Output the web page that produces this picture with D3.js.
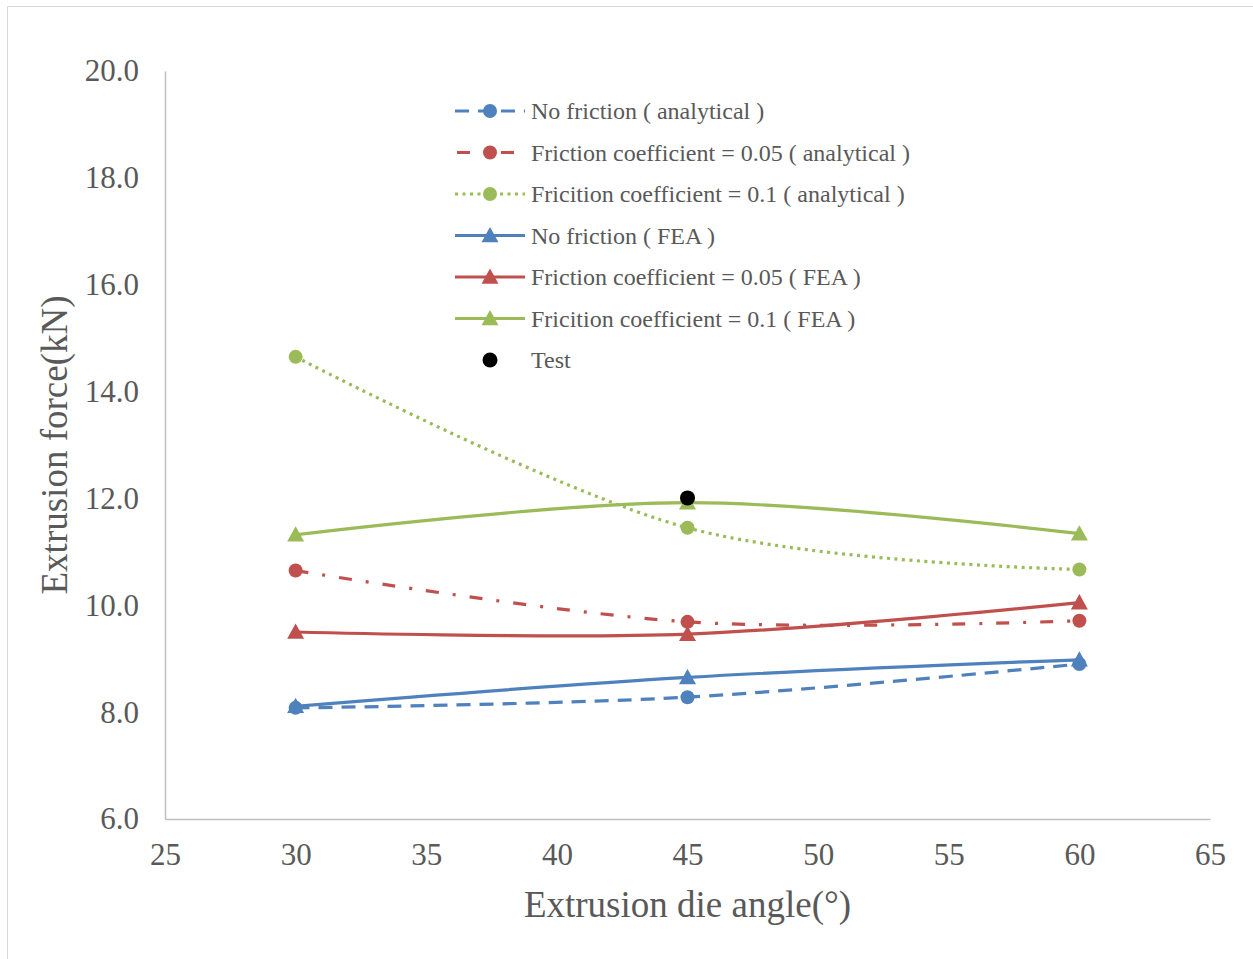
<!DOCTYPE html>
<html>
<head>
<meta charset="utf-8">
<script src="https://cdn.jsdelivr.net/npm/d3@7"></script>
<style>
  html, body { margin: 0; padding: 0; background: #fff; }
  svg text { font-family: "Liberation Serif", "Times New Roman", serif; fill: #595959; }
</style>
</head>
<body>
<svg id="chart" width="1253" height="959"></svg>
<script>
// Die angles (degrees)
const angles = [30, 45, 60];

// Extrusion force (kN) per series
const noFrictionAnalytical = [8.08, 8.28, 8.90];
const friction005Analytical = [10.65, 9.69, 9.71];
const friction01Analytical = [14.65, 11.45, 10.67];
const noFrictionFEA = [8.11, 8.65, 8.98];
const friction005FEA = [9.50, 9.46, 10.05];
const friction01FEA = [11.32, 11.92, 11.34];
const testAngle = [45];
const testForce = [12.01];

const seriesNames = [
  "No friction ( analytical )",
  "Friction coefficient = 0.05 ( analytical )",
  "Fricition coefficient = 0.1 ( analytical )",
  "No friction ( FEA )",
  "Friction coefficient = 0.05 ( FEA )",
  "Fricition coefficient = 0.1 ( FEA )",
  "Test"
];

const xTicks = [25, 30, 35, 40, 45, 50, 55, 60, 65];
const yTicks = [6, 8, 10, 12, 14, 16, 18, 20];

const blue = "#4F81BD", red = "#C0504D", green = "#9BBB59";
const serif = "'Liberation Serif', 'Times New Roman', serif";

const series = [
  { name: seriesNames[0], values: noFrictionAnalytical, color: blue, dash: "14,9", legendOffset: 0, marker: "circle" },
  { name: seriesNames[1], values: friction005Analytical, color: red, dash: "13,14,3,14", legendOffset: -2, marker: "circle" },
  { name: seriesNames[2], values: friction01Analytical, color: green, dash: "3,4.5", legendOffset: 0, marker: "circle" },
  { name: seriesNames[3], values: noFrictionFEA, color: blue, dash: null, marker: "triangle" },
  { name: seriesNames[4], values: friction005FEA, color: red, dash: null, marker: "triangle" },
  { name: seriesNames[5], values: friction01FEA, color: green, dash: null, marker: "triangle" }
];

const svg = d3.select("#chart");

// chart frame
svg.append("rect")
  .attr("x", 7.5).attr("y", 6.5)
  .attr("width", 1260).attr("height", 970)
  .attr("fill", "none").attr("stroke", "#d9d9d9").attr("stroke-width", 1);

const plot = { left: 165, right: 1210, top: 71, bottom: 819 };

const x = d3.scaleLinear().domain([25, 65]).range([plot.left, plot.right]);
const y = d3.scaleLinear().domain([6, 20]).range([plot.bottom, plot.top]);

// axes
const xAxis = d3.axisBottom(x).tickValues(xTicks).tickSize(0).tickPadding(24)
  .tickFormat(d3.format("d"));
const yAxis = d3.axisLeft(y).tickValues(yTicks).tickSize(0).tickPadding(26)
  .tickFormat(d3.format(".1f"));

const gx = svg.append("g").attr("transform", `translate(0,${plot.bottom})`).call(xAxis);
const gy = svg.append("g").attr("transform", `translate(${plot.left},0)`).call(yAxis);

[gx, gy].forEach(g => {
  g.attr("font-family", serif);
  g.select(".domain").attr("stroke", "#bfbfbf").attr("stroke-width", 1.5);
  g.selectAll("text").attr("font-size", 31).attr("fill", "#595959")
    .attr("font-family", serif);
});
gx.selectAll("text").attr("dy", "0.71em").attr("y", 24);

// axis titles
svg.append("text")
  .attr("x", (plot.left + plot.right) / 2).attr("y", 917)
  .attr("text-anchor", "middle").attr("font-size", 37)
  .attr("font-family", serif)
  .text("Extrusion die angle(°)");

svg.append("text")
  .attr("transform", `translate(67,${(plot.top + plot.bottom) / 2}) rotate(-90)`)
  .attr("text-anchor", "middle").attr("font-size", 37)
  .attr("font-family", serif)
  .text("Extrusion force(kN)");

// smoothed series lines
const line = d3.line()
  .x((d, i) => x(angles[i]))
  .y(d => y(d))
  .curve(d3.curveCardinal.tension(0));

function drawMarker(g, type, cx, cy, color) {
  if (type === "circle") {
    g.append("circle").attr("cx", cx).attr("cy", cy).attr("r", 7).attr("fill", color);
  } else if (type === "triangle") {
    const s = 8.5;
    g.append("path")
      .attr("d", `M${cx},${cy - s}L${cx + s},${cy + s * 0.8}L${cx - s},${cy + s * 0.8}Z`)
      .attr("fill", color);
  } else {
    g.append("circle").attr("cx", cx).attr("cy", cy).attr("r", 7.5).attr("fill", color);
  }
}

const marks = svg.append("g");
series.forEach(s => {
  marks.append("path")
    .datum(s.values)
    .attr("d", line)
    .attr("fill", "none")
    .attr("stroke", s.color)
    .attr("stroke-width", 3.2)
    .attr("stroke-dasharray", s.dash);
});
series.forEach(s => {
  s.values.forEach((v, i) => drawMarker(marks, s.marker, x(angles[i]), y(v), s.color));
});
testForce.forEach((v, i) => drawMarker(marks, "dot", x(testAngle[i]), y(v), "#000"));

// legend
const legend = svg.append("g");
const legendItems = series.concat([{ name: seriesNames[6], color: "#000", dash: null, marker: "dot", noLine: true }]);
legendItems.forEach((s, i) => {
  const cy = 111 + i * 41.5;
  if (!s.noLine) {
    legend.append("line")
      .attr("x1", 455).attr("x2", 525).attr("y1", cy).attr("y2", cy)
      .attr("stroke", s.color).attr("stroke-width", 3.2)
      .attr("stroke-dasharray", s.dash)
      .attr("stroke-dashoffset", s.legendOffset || 0);
  }
  drawMarker(legend, s.marker, 490, cy, s.color);
  legend.append("text")
    .attr("x", 531).attr("y", cy).attr("dy", "0.35em")
    .attr("font-size", 24)
    .attr("font-family", serif)
    .text(s.name);
});
</script>
</body>
</html>
